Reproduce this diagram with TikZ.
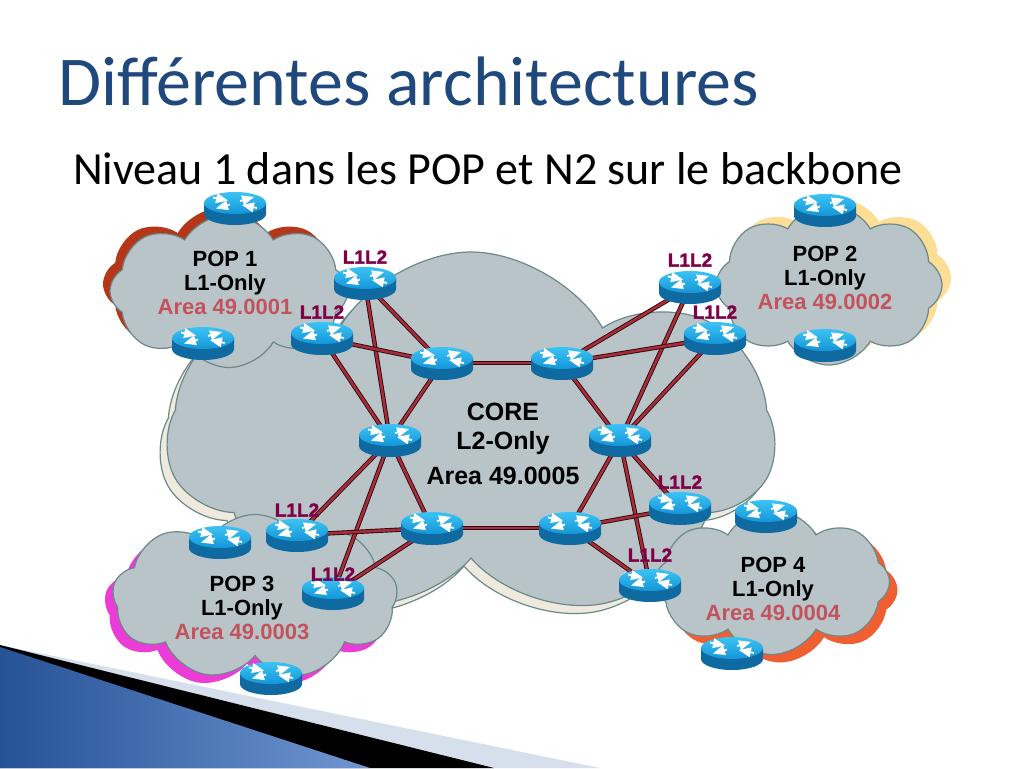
\documentclass[tikz,border=0pt]{standalone}
\usepackage{fontspec}
\setmainfont{Liberation Sans}
\newfontfamily\slidefont{Carlito}
\newfontfamily\levelfont[FakeBold=1.6]{Liberation Sans Bold}
\usetikzlibrary{arrows,positioning,shapes.geometric,shapes.symbols,shadows}

\definecolor{titleblue}{RGB}{31,73,125}
\definecolor{cloudfill}{RGB}{184,196,200}
\definecolor{cloudline}{RGB}{108,136,138}
\definecolor{coreshade}{RGB}{238,235,222}
\definecolor{popAshade}{RGB}{180,55,25}
\definecolor{popBshade}{RGB}{252,222,150}
\definecolor{popCshade}{RGB}{235,60,215}
\definecolor{popDshade}{RGB}{240,95,50}
\definecolor{areared}{RGB}{195,82,92}
\definecolor{levelred}{RGB}{128,0,72}
\definecolor{linkred}{RGB}{168,45,58}
\definecolor{linkdark}{RGB}{45,8,12}
\definecolor{routerlight}{RGB}{60,195,245}
\definecolor{routertop}{RGB}{20,150,215}
\definecolor{routerside}{RGB}{14,106,160}
\definecolor{wedgeblue}{RGB}{38,82,150}
\definecolor{wedgelight}{RGB}{112,150,210}
\definecolor{wedgegrey}{RGB}{214,223,236}

\pgfdeclarelayer{clouds}
\pgfdeclarelayer{links}
\pgfsetlayers{clouds,links,main}

\begin{document}
\begin{tikzpicture}
	[x=1pt,y=-1pt,
	area cloud/.style={cloud, cloud puffs=#1, cloud puff arc=120, cloud ignores aspect,
		draw=cloudline, fill=cloudfill, line width=1.2pt, inner sep=0pt},
	router/.style={rectangle, minimum width=64pt, minimum height=36pt, inner sep=0pt,
		path picture={
			\begin{scope}[shift={(path picture bounding box.center)}, x=1pt, y=1pt]
			\fill[routerside] (-31,5) -- (-31,-6) arc[start angle=180, end angle=360, x radius=31pt, y radius=11pt] -- (31,5) -- cycle;
			\shade[top color=routerlight, bottom color=routertop] (0,5) ellipse [x radius=31pt, y radius=11pt];
			\draw[white, line width=1.8pt, -triangle 45] (-22,10.5) -- (-7,7.5);
			\draw[white, line width=1.8pt, -triangle 45] (22,0) -- (7,3);
			\draw[white, line width=1.8pt, -triangle 45] (5,7) -- (19,11);
			\draw[white, line width=1.8pt, -triangle 45] (-5,3.5) -- (-19,-0.5);
			\end{scope}}},
	link/.style={draw=linkdark, line width=0.9pt, double=linkred, double distance=2.6pt},
	level/.style={font=\levelfont\fontsize{19}{19}\selectfont, text=levelred, inner sep=1pt},
	pop text/.style={font=\bfseries\fontsize{22}{24}\selectfont, align=center, inner sep=0pt},
	core label/.style={font=\bfseries\fontsize{25}{29}\selectfont, align=center, inner sep=0pt}]

	\useasboundingbox (0,0) rectangle (1024,768);

	\begin{pgfonlayer}{clouds}
		\fill[white] (0,0) rectangle (1024,768);
		\fill[wedgegrey] (0,645) -- (600,768) -- (0,768) -- cycle;
		\fill[black] (0,645) -- (494,768) -- (0,768) -- cycle;
		\shade[left color=wedgeblue, right color=wedgelight] (0,647) -- (370,768) -- (0,768) -- cycle;

		\node[area cloud=7, minimum width=607pt, minimum height=370pt,
			general shadow={fill=coreshade, draw=cloudline, line width=1.2pt, shadow xshift=-7pt, shadow yshift=-8pt}] (core) at (471,437) {};
		\node[area cloud=8, minimum width=238pt, minimum height=153pt,
			general shadow={fill=popAshade, shadow xshift=-7pt, shadow yshift=7pt}] (pop1) at (229,291) {};
		\node[area cloud=8, minimum width=226pt, minimum height=160pt,
			general shadow={fill=popBshade, shadow xshift=9pt, shadow yshift=7pt}] (pop2) at (829,285) {};
		\node[area cloud=9, minimum width=285pt, minimum height=165pt,
			general shadow={fill=popCshade, shadow xshift=-8pt, shadow yshift=-8pt}] (pop3) at (255,597) {};
		\node[area cloud=8, minimum width=235pt, minimum height=145pt,
			general shadow={fill=popDshade, shadow xshift=8pt, shadow yshift=-8pt}] (pop4) at (772,582) {};
	\end{pgfonlayer}

	\node[font=\slidefont\fontsize{70}{74}\selectfont, text=titleblue, anchor=base west, inner sep=0pt] (title) at (58,105) {Différentes architectures};
	\node[font=\slidefont\fontsize{46}{50}\selectfont, anchor=base west, inner sep=0pt] (subtitle) at (73,184) {Niveau 1 dans les POP et N2 sur le backbone};

	\node[router] (c1) at (442,363) {};
	\node[router] (c2) at (562,363) {};
	\node[router] (c3) at (390,440) {};
	\node[router] (c4) at (620,440) {};
	\node[router] (c5) at (432,528) {};
	\node[router] (c6) at (570,528) {};

	\node[router] (p1a) at (365,283) {};
	\node[router] (p1b) at (322,338) {};
	\node[router] (p2a) at (690,287) {};
	\node[router] (p2b) at (715,338) {};
	\node[router] (p3a) at (297,535) {};
	\node[router] (p3b) at (333,593) {};
	\node[router] (p4a) at (680,508) {};
	\node[router] (p4b) at (650,585) {};

	\node[router] (pop1up) at (235,208) {};
	\node[router] (pop1down) at (203,343) {};
	\node[router] (pop2up) at (825,210) {};
	\node[router] (pop2down) at (825,345) {};
	\node[router] (pop3left) at (220,542) {};
	\node[router] (pop3down) at (271,678) {};
	\node[router] (pop4up) at (766,516) {};
	\node[router] (pop4down) at (732,653) {};

	\node[level, above=0pt of p1a] (p1a level) {L1L2};
	\node[level, above=0pt of p1b] (p1b level) {L1L2};
	\node[level, above=1pt of p2a] (p2a level) {L1L2};
	\node[level, above=0pt of p2b] (p2b level) {L1L2};
	\node[level, above=-1pt of p3a] (p3a level) {L1L2};
	\node[level, above=-7pt of p3b] (p3b level) {L1L2};
	\node[level, above=0pt of p4a] (p4a level) {L1L2};
	\node[level, above=4pt of p4b] (p4b level) {L1L2};

	\node[pop text] (pop1 text) at (225,283) {POP 1\\L1-Only\\\textcolor{areared}{Area 49.0001}};
	\node[pop text] (pop2 text) at (825,278) {POP 2\\L1-Only\\\textcolor{areared}{Area 49.0002}};
	\node[pop text] (pop3 text) at (242,608) {POP 3\\L1-Only\\\textcolor{areared}{Area 49.0003}};
	\node[pop text] (pop4 text) at (773,589) {POP 4\\L1-Only\\\textcolor{areared}{Area 49.0004}};
	\node[core label] (core text) at (503,444) {CORE\\L2-Only\\[6pt]Area 49.0005};

	\begin{pgfonlayer}{links}
		\draw[link] (p1a.center) to (c1.center);
		\draw[link] (p1a.center) to (c3.center);
		\draw[link] (p1b.center) to (c1.center);
		\draw[link] (p1b.center) to (c3.center);
		\draw[link] (c1.center) to (c2.center);
		\draw[link] (c1.center) to (c3.center);
		\draw[link] (p2a.center) to (c2.center);
		\draw[link] (p2a.center) to (c4.center);
		\draw[link] (p2b.center) to (c2.center);
		\draw[link] (p2b.center) to (c4.center);
		\draw[link] (c2.center) to (c4.center);
		\draw[link] (c3.center) to (p3a.center);
		\draw[link] (c3.center) to (p3b.center);
		\draw[link] (c3.center) to (c5.center);
		\draw[link] (c5.center) to (p3a.center);
		\draw[link] (c5.center) to (p3b.center);
		\draw[link] (c5.center) to (c6.center);
		\draw[link] (c4.center) to (c6.center);
		\draw[link] (c4.center) to (p4a.center);
		\draw[link] (c4.center) to (p4b.center);
		\draw[link] (c6.center) to (p4a.center);
		\draw[link] (c6.center) to (p4b.center);
	\end{pgfonlayer}
\end{tikzpicture}
\end{document}
